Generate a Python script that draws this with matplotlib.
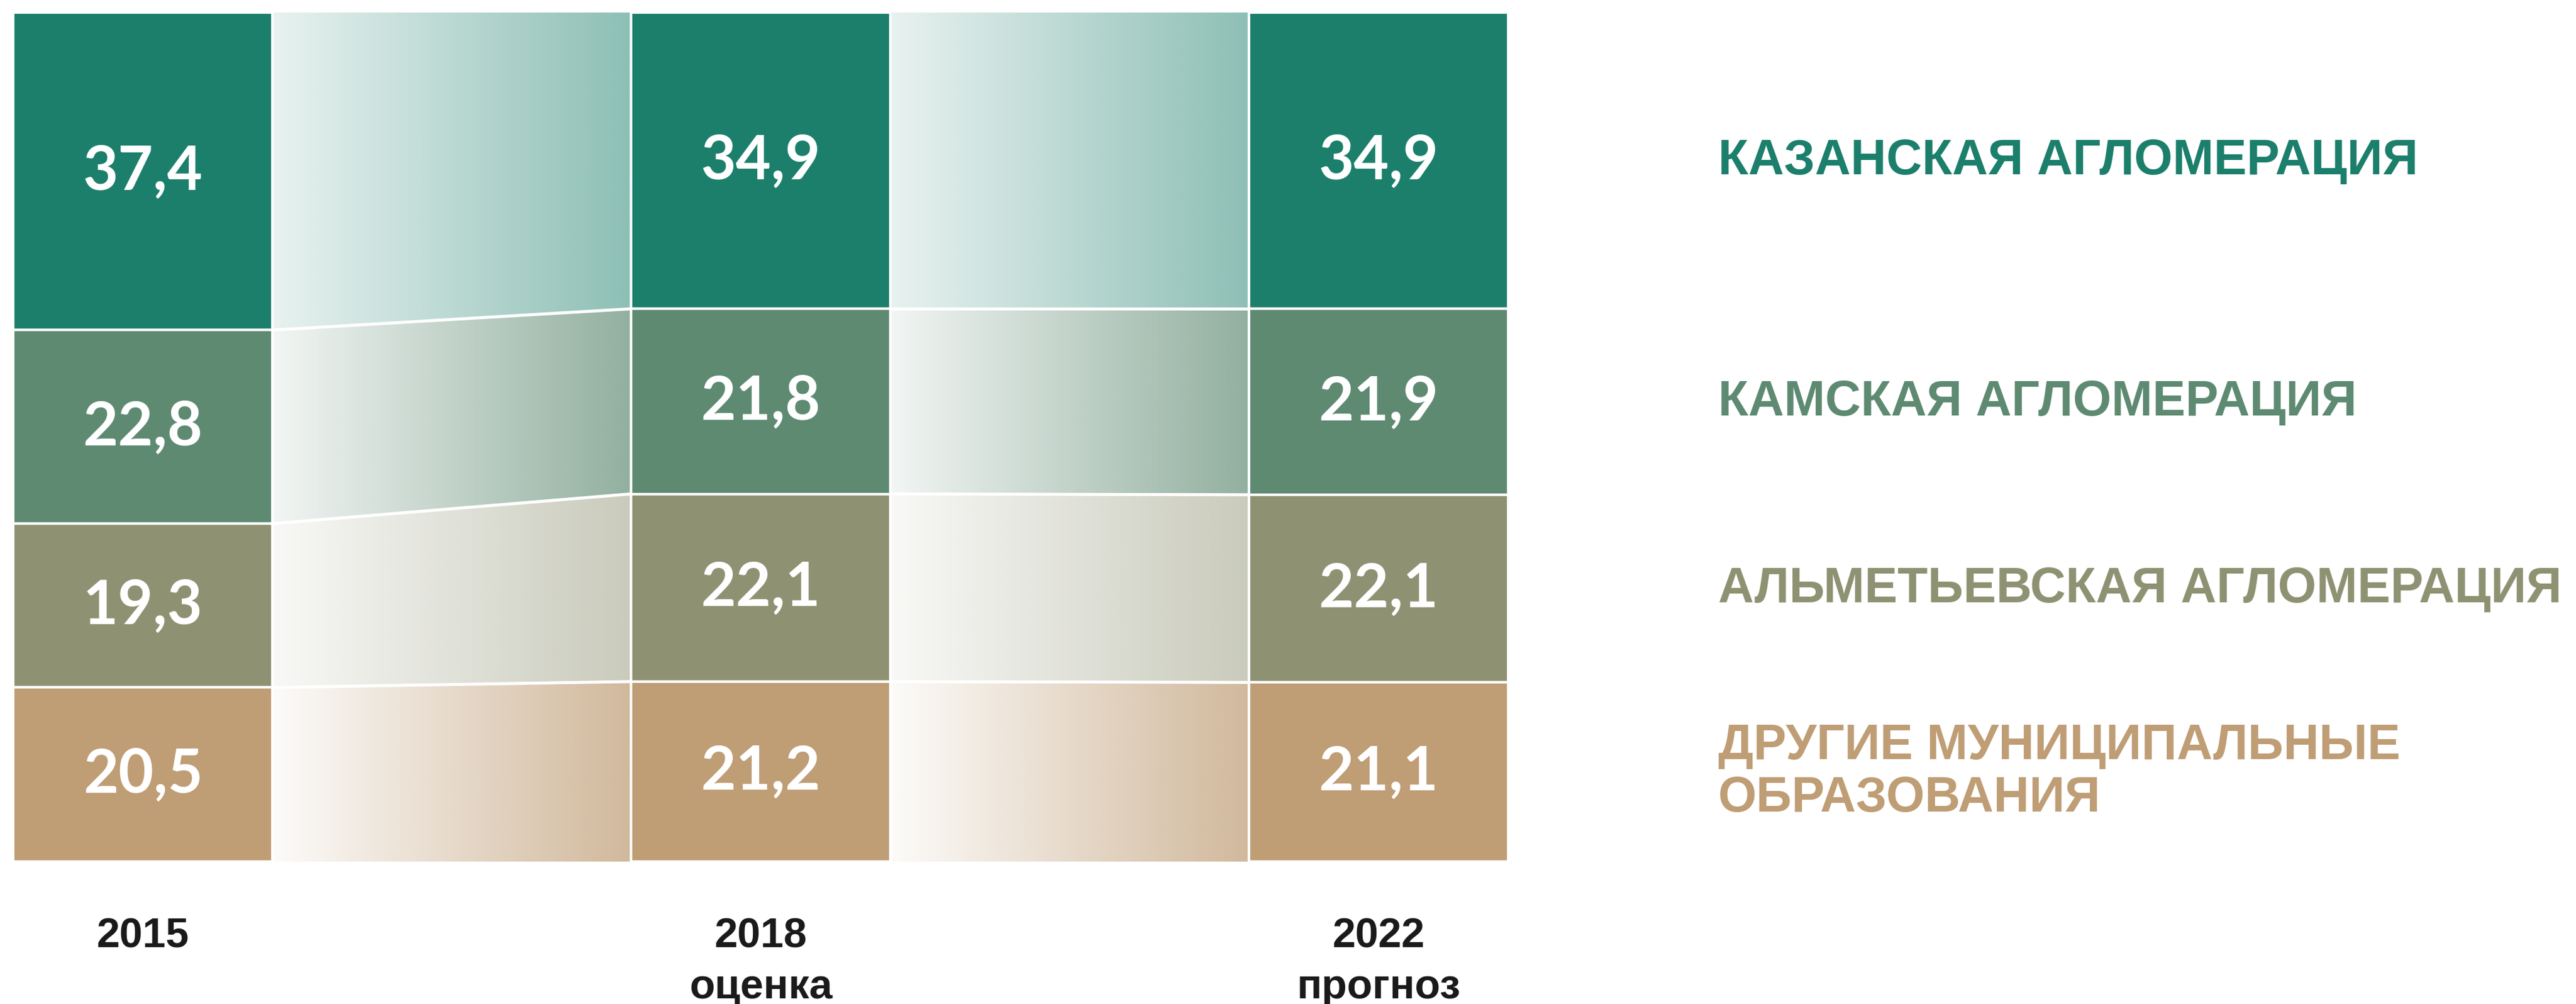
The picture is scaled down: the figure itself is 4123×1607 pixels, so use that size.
import numpy as np
import matplotlib.pyplot as plt
import matplotlib.transforms as mtransforms
from matplotlib.patches import Polygon
from matplotlib.colors import to_rgb
from matplotlib import font_manager

# data (shares, %)
years = ['2015', '2018', '2022']
notes = ['', 'оценка', 'прогноз']
kazan = [37.4, 34.9, 34.9]
kama = [22.8, 21.8, 21.9]
almet = [19.3, 22.1, 22.1]
other = [20.5, 21.2, 21.1]

names = ['КАЗАНСКАЯ АГЛОМЕРАЦИЯ', 'КАМСКАЯ АГЛОМЕРАЦИЯ',
         'АЛЬМЕТЬЕВСКАЯ АГЛОМЕРАЦИЯ', 'ДРУГИЕ МУНИЦИПАЛЬНЫЕ\nОБРАЗОВАНИЯ']
colors = ['#1b7f6b', '#5e8a72', '#8f9272', '#bf9d75']
band_alpha = [(0.10, 0.50), (0.08, 0.68), (0.06, 0.48), (0.04, 0.72)]

installed = {f.name for f in font_manager.fontManager.ttflist}
narrow = 'Liberation Sans Narrow' if 'Liberation Sans Narrow' in installed else 'Liberation Sans'

W, H = 4123, 1608
fig = plt.figure(figsize=(W / 100, H / 100), dpi=100)
ax = fig.add_axes([21 / W, (H - 1380) / H, (2414 - 21) / W, (1380 - 21) / H])

x = np.arange(len(years))
w = 0.42
series = [kazan, kama, almet, other]

# stack from the bottom: other, almet, kama, kazan
bottoms = {}
acc = np.zeros(len(years))
for s in range(len(series) - 1, -1, -1):
    bottoms[s] = acc.copy()
    acc = acc + np.array(series[s])

for s, vals in enumerate(series):
    ax.bar(x, vals, w, bottom=bottoms[s], color=colors[s],
           edgecolor='white', linewidth=3, zorder=3)
    for i, v in enumerate(vals):
        ax.text(x[i], bottoms[s][i] + v / 2, f'{v:.1f}'.replace('.', ','),
                ha='center', va='center', color='white', fontsize=70,
                fontweight='bold', family='Lato', zorder=4)

# gradient bands between the bars
for i in range(len(years) - 1):
    xa, xb = x[i] + w / 2, x[i + 1] - w / 2
    for s, vals in enumerate(series):
        lo_a, lo_b = bottoms[s][i], bottoms[s][i + 1]
        hi_a, hi_b = lo_a + vals[i], lo_b + vals[i + 1]
        poly = Polygon([(xa, lo_a), (xb, lo_b), (xb, hi_b), (xa, hi_a)],
                       closed=True, facecolor='none', edgecolor='none')
        ax.add_patch(poly)
        grad = np.zeros((1, 256, 4))
        grad[..., :3] = to_rgb(colors[s])
        grad[..., 3] = np.linspace(band_alpha[s][0], band_alpha[s][1], 256)
        im = ax.imshow(grad, extent=[xa, xb, min(lo_a, lo_b), max(hi_a, hi_b)],
                       aspect='auto', interpolation='bilinear', zorder=1)
        im.set_clip_path(poly)
        if s < len(series) - 1:
            ax.plot([xa, xb], [lo_a, lo_b], color='white', lw=3.5, zorder=2)

ax.set_xlim(-w / 2, x[-1] + w / 2)
ax.set_ylim(0, 100)
ax.axis('off')

# year labels under the bars
for i in range(len(years)):
    ax.text(x[i], -8.8, years[i], ha='center', va='center', fontsize=48,
            fontweight='bold', family=narrow, color='#1a1a1a', clip_on=False)
    if notes[i]:
        ax.text(x[i], -14.8, notes[i], ha='center', va='center', fontsize=48,
                fontweight='bold', family=narrow, color='#1a1a1a', clip_on=False)

# category names at the right, level with the last bar's segments
trans = mtransforms.blended_transform_factory(fig.transFigure, ax.transData)
for s, vals in enumerate(series):
    yc = bottoms[s][-1] + vals[-1] / 2
    ax.text(2750 / W, yc, names[s], transform=trans, ha='left', va='center',
            fontsize=57, fontweight='bold', family='Liberation Sans',
            color=colors[s], linespacing=1.15, clip_on=False)

fig.savefig('out.png', dpi=100, facecolor='white')
